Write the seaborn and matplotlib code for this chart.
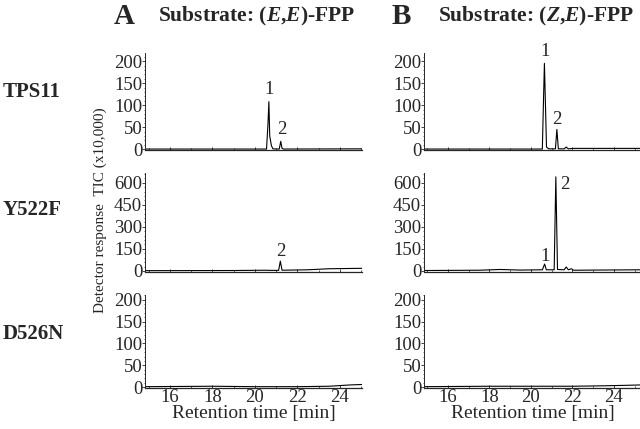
import matplotlib
matplotlib.use("Agg")
import matplotlib.pyplot as plt
import seaborn as sns
from matplotlib.ticker import MultipleLocator

# Retention time [min] / detector response TIC (x10,000)
a_tps11_t = [14.8, 19.5, 20.55, 20.62, 20.66, 20.70, 20.78, 20.85, 21.15, 21.22, 21.28, 21.35, 25.05]
a_tps11_y = [0.5, 0.5, 0.5, 60, 108, 30, 8, 1, 0.5, 18, 2, 0.5, 1]

b_tps11_t = [14.85, 20.55, 20.61, 20.65, 20.69, 20.75, 20.85, 21.18, 21.25, 21.32, 21.6, 21.7, 21.8, 22.0, 25.3]
b_tps11_y = [0.5, 0.5, 120, 195, 120, 5, 1, 1, 45, 1, 1, 5, 1, 2, 2]

a_y522f_t = [14.8, 19.0, 20.5, 20.7, 21.12, 21.2, 21.28, 22.5, 23.5, 25.05]
a_y522f_y = [2, 3, 5, 4, 4, 67, 5, 8, 15, 18]

b_y522f_t = [14.85, 17.5, 18.5, 19.5, 20.55, 20.66, 20.74, 21.12, 21.2, 21.28,
             21.6, 21.7, 21.8, 21.95, 22.05, 22.2, 23.0, 25.3]
b_y522f_y = [3, 5, 10, 6, 8, 47, 8, 8, 640, 10, 8, 27, 8, 15, 5, 5, 6, 8]

a_d526n_t = [14.8, 18, 20, 22, 23.5, 24.5, 25.05]
a_d526n_y = [1, 2, 1, 1, 2, 5, 6]
b_d526n_t = [14.85, 18, 20, 22, 23.5, 24.5, 25.3]
b_d526n_y = [1, 2, 2, 2, 3, 4, 5]

# peak labels: (time, height, text)
a_tps11_labels = [(20.66, 135, "1"), (21.25, 45, "2")]
b_tps11_labels = [(20.66, 222, "1"), (21.26, 68, "2")]
a_y522f_labels = [(21.22, 135, "2")]
b_y522f_labels = [(20.66, 100, "1"), (21.65, 590, "2")]

enzymes = ["TPS11", "Y522F", "D526N"]
y_max = [200, 600, 200]
y_step = [50, 150, 50]

sns.set_theme(style="ticks")
plt.rcParams["font.family"] = ["Liberation Serif", "DejaVu Serif"]
plt.rcParams["mathtext.fontset"] = "custom"
plt.rcParams["mathtext.it"] = "Liberation Serif:italic:bold"
plt.rcParams["mathtext.rm"] = "Liberation Serif:bold"

fig = plt.figure(figsize=(6.4, 4.29), dpi=100)

lefts = [0.2266, 0.6625]
width = 0.339
rows = [(0.650, 0.226), (0.366, 0.231), (0.0956, 0.217)]
ylims = [(-2, 218), (-7, 667), (-2, 211)]
xlims = [(14.82, 25.05), (14.85, 25.3)]

traces = [
    [(a_tps11_t, a_tps11_y, a_tps11_labels), (a_y522f_t, a_y522f_y, a_y522f_labels), (a_d526n_t, a_d526n_y, [])],
    [(b_tps11_t, b_tps11_y, b_tps11_labels), (b_y522f_t, b_y522f_y, b_y522f_labels), (b_d526n_t, b_d526n_y, [])],
]

for c in range(2):
    for r in range(3):
        bottom, h = rows[r]
        ax = fig.add_axes([lefts[c], bottom, width, h])
        t, y, labels = traces[c][r]
        sns.lineplot(x=t, y=y, ax=ax, color="black", lw=0.8, estimator=None, sort=False)
        for lt, ly, txt in labels:
            ax.text(lt, ly, txt, ha="center", va="center", fontsize=13.5, clip_on=False)
        ax.set_xlim(*xlims[c])
        ax.set_ylim(*ylims[r])
        ax.set_yticks(range(0, y_max[r] + 1, y_step[r]))
        ax.yaxis.set_minor_locator(MultipleLocator(y_step[r] / 5))
        ax.set_xticks([16, 18, 20, 22, 24])
        ax.xaxis.set_minor_locator(MultipleLocator(1))
        for s in ["top", "right"]:
            ax.spines[s].set_visible(False)
        ax.spines["left"].set_linewidth(0.7)
        ax.spines["bottom"].set_linewidth(0.9)
        ax.tick_params(axis="y", which="major", direction="out", length=2, width=0.6,
                       labelsize=13.5, pad=0)
        ax.tick_params(axis="y", which="minor", direction="out", length=1, width=0.5)
        ax.tick_params(axis="x", which="major", direction="in", length=2.5, width=0.6,
                       labelsize=13.5, pad=1)
        ax.tick_params(axis="x", which="minor", direction="in", length=1.5, width=0.5)
        ax.set_facecolor("white")
        if r < 2:
            ax.set_xticklabels([])
        else:
            ax.set_xlabel("Retention time [min]", fontsize=14, labelpad=-1)
        ax.set_ylabel("")

# panel titles
fig.text(114 / 640, 1 - 16 / 429, "A", fontsize=21, fontweight="bold", va="center")
fig.text(158 / 640, 1 - 16 / 429, r"Substrate: ($E$,$E$)-FPP", fontsize=15.5,
         fontweight="bold", va="center")
fig.text(392 / 640, 1 - 16 / 429, "B", fontsize=21, fontweight="bold", va="center")
fig.text(438 / 640, 1 - 16 / 429, r"Substrate: ($Z$,$E$)-FPP", fontsize=15.5,
         fontweight="bold", va="center")

# row labels
for name, yc in zip(enzymes, [92, 210, 334]):
    fig.text(3 / 640, 1 - yc / 429, name, fontsize=15, fontweight="bold", va="center")

fig.text(100 / 640, 1 - 210 / 429, "Detector response  TIC (x10,000)", rotation=90,
         fontsize=11, ha="center", va="center")

fig.savefig("out.png", dpi=100, facecolor="white")
